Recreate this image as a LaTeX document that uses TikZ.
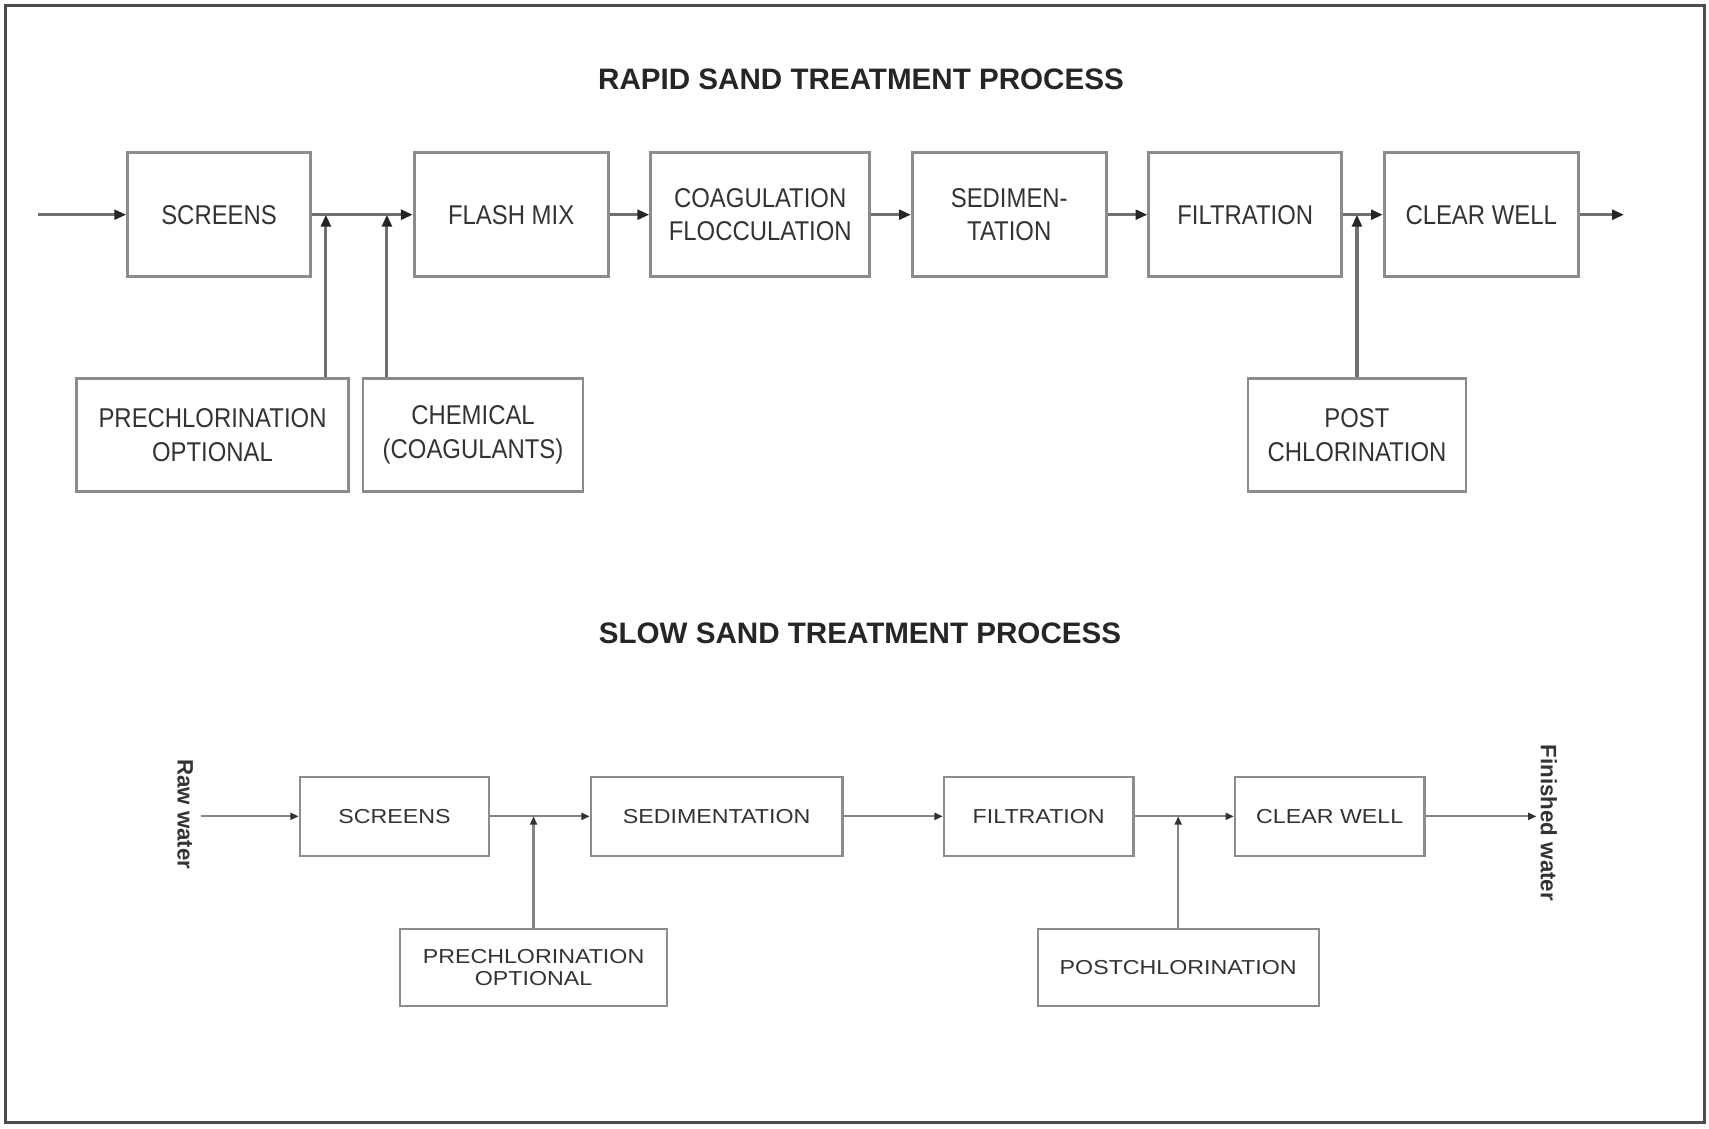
\documentclass[tikz,border=0pt]{standalone}
\usepackage{fontspec}
\setmainfont{Liberation Sans}
\newfontfamily\boxfont[FakeStretch=0.88]{Liberation Sans}
\newfontfamily\slowfont[FakeStretch=1.15]{Liberation Sans}
\usetikzlibrary{arrows.meta}
\definecolor{lineGray}{HTML}{707070}
\definecolor{boxGray}{HTML}{8C8C8C}
\definecolor{textDark}{HTML}{333333}
\tikzset{
	procBox/.style={draw=boxGray, line width=0.8pt, minimum height=1.254cm, inner sep=0pt, align=center, text=textDark, font=\boxfont\fontsize{7.8}{9.7}\selectfont},
	feedBox/.style={procBox, minimum height=1.144cm},
	slowBox/.style={draw=boxGray, line width=0.6pt, minimum height=0.792cm, inner sep=0pt, align=center, text=textDark, font=\slowfont\fontsize{5.8}{6.3}\selectfont},
	slowFeed/.style={slowBox, minimum height=0.781cm},
	flowArrow/.style={draw=lineGray, line width=0.9pt, -{Triangle[length=3.4pt,width=2.8pt,color=black!85]}},
	slowArrow/.style={draw=lineGray!85, line width=0.6pt, -{Triangle[length=2.4pt,width=2pt,color=black!80]}},
	titleText/.style={font=\bfseries\fontsize{8.5}{10}\selectfont, text=black!85},
	sideLabel/.style={font=\bfseries\fontsize{6.4}{8}\selectfont, rotate=-90, text=black!80, inner sep=1pt},
}
\begin{document}
\begin{tikzpicture}[x=0.011cm, y=-0.011cm]
	\useasboundingbox (0,0) rectangle (1568,1035);
	\draw[black!70, line width=0.8pt] (5,5) rectangle (1564,1030);
	% rapid sand
	\node[titleText] (rapidTitle) at (790,73) {RAPID SAND TREATMENT PROCESS};
	\node[procBox, minimum width=1.848cm] (scr) at (201,197) {SCREENS};
	\node[procBox, minimum width=1.958cm] (flash) at (469,197) {FLASH MIX};
	\node[procBox, minimum width=2.211cm] (coag) at (697.5,197) {COAGULATION\\FLOCCULATION};
	\node[procBox, minimum width=1.958cm] (sed) at (926,197) {SEDIMEN-\\TATION};
	\node[procBox, minimum width=1.947cm] (filt) at (1142.5,197) {FILTRATION};
	\node[procBox, minimum width=1.958cm] (cw) at (1359,197) {CLEAR WELL};
	\node[feedBox, minimum width=2.75cm] (pre) at (195,399) {PRECHLORINATION\\OPTIONAL};
	\node[feedBox, minimum width=2.222cm] (chem) at (434,399) {CHEMICAL\\(COAGULANTS)};
	\node[feedBox, minimum width=2.2cm] (post) at (1245,399) {POST\\CHLORINATION};
	\coordinate (in) at (35,197);
	\coordinate (out) at (1490,197);
	\coordinate (j1) at (299,197);
	\coordinate (j2) at (355,197);
	\draw[flowArrow] (in) -- (scr);
	\draw[flowArrow] (scr) -- (flash);
	\draw[flowArrow] (flash) -- (coag);
	\draw[flowArrow] (coag) -- (sed);
	\draw[flowArrow] (sed) -- (filt);
	\draw[flowArrow] (filt) -- (cw);
	\draw[flowArrow] (cw) -- (out);
	\draw[flowArrow] (pre.north -| j1) -- (j1);
	\draw[flowArrow] (chem.north -| j2) -- (j2);
	\draw[flowArrow] (post.north) -- (post.north |- filt.east);
	% slow sand
	\node[titleText] (slowTitle) at (789,581) {SLOW SAND TREATMENT PROCESS};
	\node[slowBox, minimum width=1.914cm] (scr2) at (362,749) {SCREENS};
	\node[slowBox, minimum width=2.541cm] (sed2) at (657.5,749) {SEDIMENTATION};
	\node[slowBox, minimum width=1.914cm] (filt2) at (953,749) {FILTRATION};
	\node[slowBox, minimum width=1.914cm] (cw2) at (1220,749) {CLEAR WELL};
	\node[slowFeed, minimum width=2.695cm] (pre2) at (489.5,887.5) {PRECHLORINATION\\OPTIONAL};
	\node[slowFeed, minimum width=2.838cm] (post2) at (1081,887.5) {POSTCHLORINATION};
	\node[sideLabel] (raw) at (170,747) {Raw water};
	\node[sideLabel] (fin) at (1421,755) {Finished water};
	\draw[slowArrow] (scr2.west -| raw.north) ++(3,0) -- (scr2.west);
	\draw[slowArrow] (scr2) -- (sed2);
	\draw[slowArrow] (sed2) -- (filt2);
	\draw[slowArrow] (filt2) -- (cw2);
	\draw[slowArrow] (cw2) -- (cw2.east -| fin.south);
	\draw[slowArrow] (pre2.north) -- (pre2.north |- scr2.east);
	\draw[slowArrow] (post2.north) -- (post2.north |- filt2.east);
\end{tikzpicture}
\end{document}
